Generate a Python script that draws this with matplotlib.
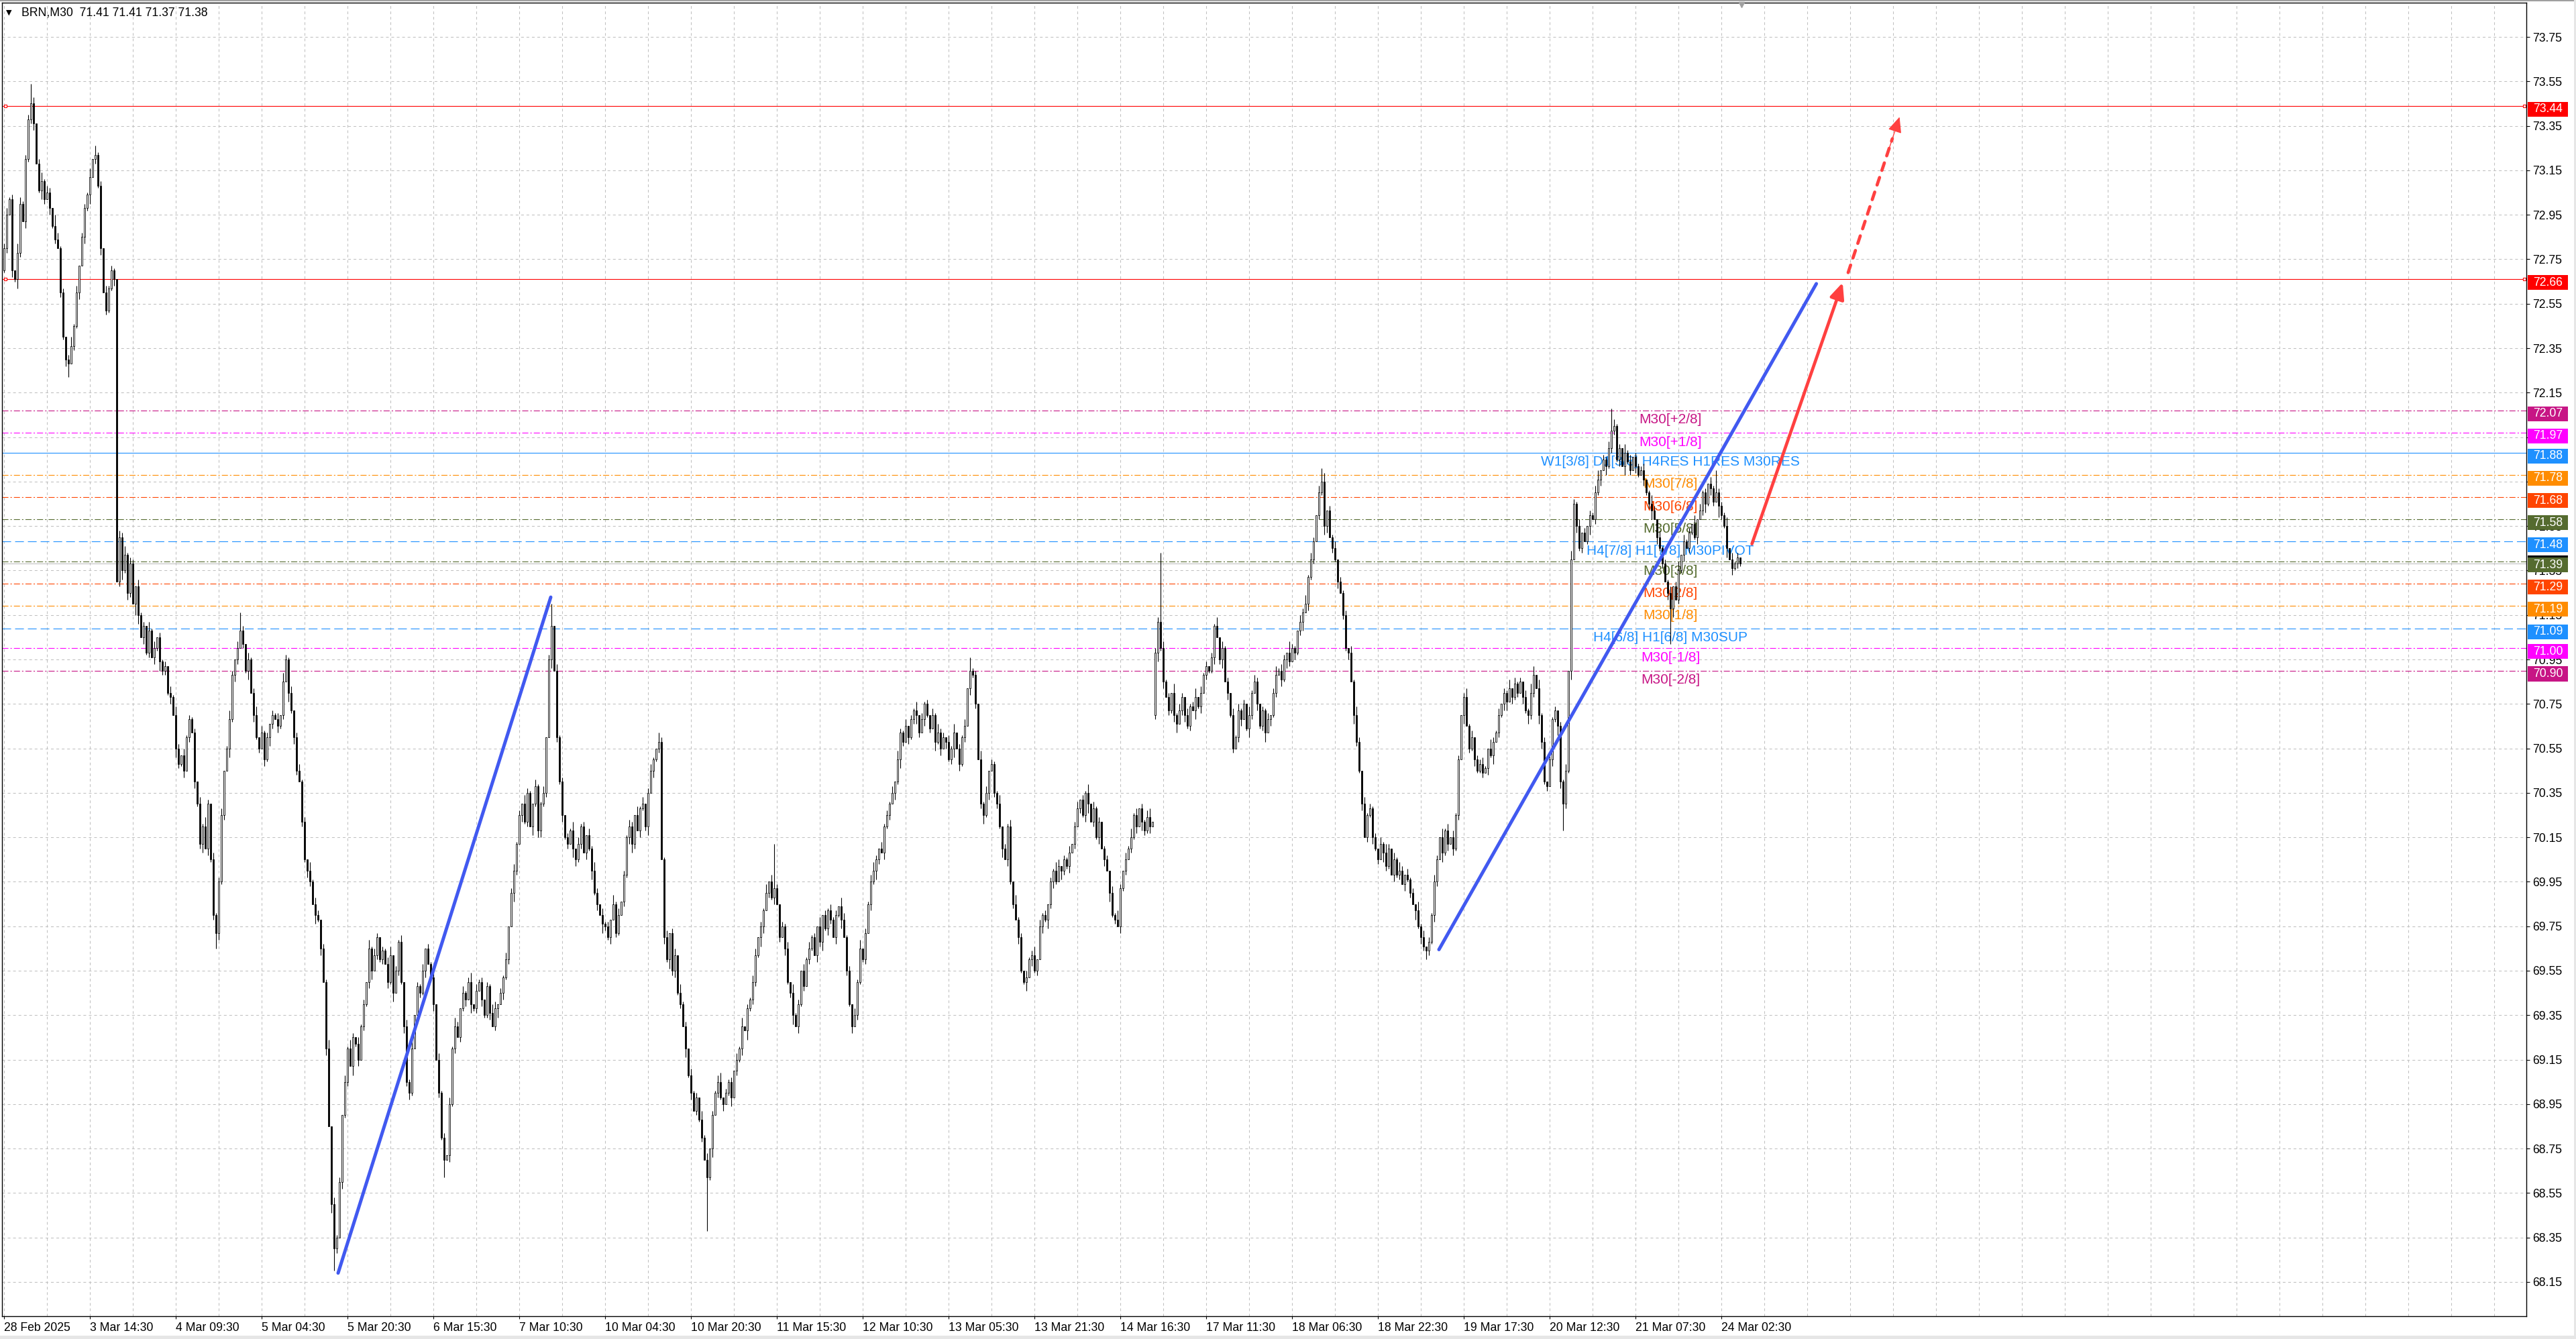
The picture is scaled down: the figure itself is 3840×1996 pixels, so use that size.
import numpy as np
import matplotlib
matplotlib.use("Agg")
import matplotlib.pyplot as plt
from matplotlib.patches import Rectangle, FancyArrowPatch
from matplotlib.ticker import MultipleLocator

plt.rcParams['font.family'] = ['Liberation Sans', 'DejaVu Sans']
plt.rcParams['lines.scale_dashes'] = False

# ---------------- data ----------------
symbol = "BRN,M30"
last_ohlc = [71.41, 71.41, 71.37, 71.38]

closes = [
    72.80, 72.95, 73.02, 72.70, 72.66, 72.78, 73.00, 72.92,
    73.20, 73.38, 73.45, 73.36, 73.18, 73.06, 73.10, 73.02, 73.05,
    72.98, 72.90, 72.84, 72.80, 72.60, 72.40, 72.30, 72.28,
    72.36, 72.45, 72.60, 72.72, 72.85, 72.98, 73.04, 73.12, 73.20,
    73.22, 73.08, 72.80, 72.60, 72.52, 72.62, 72.70, 72.66,
    71.30, 71.50, 71.35, 71.42, 71.25, 71.38, 71.20, 71.28, 71.15,
    71.05, 71.10, 70.98, 71.08, 70.96, 71.00, 71.05, 70.94,
    70.90, 70.92, 70.80, 70.78, 70.70, 70.55, 70.48, 70.52,
    70.45, 70.60, 70.68, 70.62, 70.40, 70.30, 70.12, 70.20, 70.10,
    70.30, 70.05, 69.80, 69.72, 69.95, 70.25, 70.45, 70.55,
    70.68, 70.88, 70.95, 71.00, 71.08, 71.02, 70.90, 70.95, 70.80,
    70.70, 70.60, 70.55, 70.62, 70.50, 70.60, 70.66, 70.70,
    70.68, 70.65, 70.70, 70.85, 70.95, 70.80, 70.72, 70.60, 70.45,
    70.40, 70.22, 70.05, 70.00, 69.95, 69.85, 69.80, 69.78,
    69.65, 69.50, 69.20, 68.85, 68.50, 68.30, 68.35, 68.60,
    68.90, 69.05, 69.20, 69.12, 69.25, 69.22, 69.15, 69.30, 69.40,
    69.50, 69.65, 69.55, 69.62, 69.70, 69.60, 69.64, 69.58,
    69.50, 69.62, 69.45, 69.55, 69.68, 69.50, 69.30, 69.05, 69.00,
    69.20, 69.35, 69.48, 69.45, 69.55, 69.65, 69.58, 69.52,
    69.40, 69.15, 69.00, 68.80, 68.70, 68.72, 68.95, 69.20, 69.30,
    69.25, 69.38, 69.45, 69.42, 69.50, 69.40, 69.38, 69.46,
    69.50, 69.42, 69.35, 69.48, 69.36, 69.30, 69.38, 69.40,
    69.45, 69.52, 69.60, 69.75, 69.90, 70.00, 70.12, 70.25, 70.30,
    70.22, 70.35, 70.20, 70.30, 70.38, 70.18, 70.30, 70.35,
    70.60, 70.95, 71.10, 70.90, 70.60, 70.40, 70.25, 70.15, 70.12,
    70.18, 70.10, 70.05, 70.12, 70.20, 70.08, 70.16, 70.10,
    70.00, 69.90, 69.85, 69.80, 69.76, 69.75, 69.70, 69.78, 69.85,
    69.72, 69.80, 69.86, 69.98, 70.15, 70.20, 70.12, 70.25,
    70.18, 70.28, 70.30, 70.20, 70.35, 70.45, 70.50, 70.55,
    70.58, 70.05, 69.70, 69.60, 69.72, 69.55, 69.62, 69.45, 69.40,
    69.30, 69.20, 69.08, 69.00, 68.92, 68.98, 68.88, 68.80,
    68.70, 68.62, 68.75, 68.90, 69.00, 69.05, 68.98, 68.95, 69.00,
    69.05, 68.98, 69.10, 69.15, 69.20, 69.30, 69.28, 69.38,
    69.42, 69.50, 69.62, 69.70, 69.75, 69.82, 69.90, 69.95, 69.88,
    69.92, 69.85, 69.70, 69.75, 69.65, 69.50, 69.45, 69.35,
    69.30, 69.40, 69.55, 69.48, 69.60, 69.65, 69.70, 69.62,
    69.75, 69.68, 69.80, 69.74, 69.82, 69.78, 69.70, 69.80, 69.84,
    69.78, 69.70, 69.55, 69.40, 69.30, 69.35, 69.50, 69.65,
    69.60, 69.72, 69.85, 69.95, 70.00, 70.05, 70.10, 70.08, 70.20,
    70.25, 70.30, 70.35, 70.40, 70.50, 70.62, 70.58, 70.65,
    70.60, 70.68, 70.72, 70.70, 70.62, 70.68, 70.75, 70.70, 70.64,
    70.70, 70.58, 70.62, 70.55, 70.60, 70.58, 70.50, 70.55,
    70.62, 70.55, 70.48, 70.60, 70.65, 70.82, 70.90, 70.88,
    70.75, 70.50, 70.30, 70.25, 70.35, 70.45, 70.48, 70.35, 70.30,
    70.20, 70.10, 70.05, 70.20, 69.95, 69.85, 69.78, 69.70,
    69.55, 69.50, 69.52, 69.60, 69.62, 69.55, 69.60, 69.75, 69.80,
    69.78, 69.85, 69.95, 70.00, 69.95, 70.02, 70.00, 70.05,
    70.02, 70.08, 70.12, 70.20, 70.28, 70.32, 70.25, 70.35, 70.30,
    70.22, 70.28, 70.15, 70.22, 70.10, 70.05, 70.00, 69.90,
    69.80, 69.78, 69.75, 69.92, 70.00, 70.05, 70.10, 70.15,
    70.25, 70.20, 70.28, 70.22, 70.18, 70.24, 70.20, 70.22, 70.98,
    71.12, 71.00, 70.85, 70.78, 70.72, 70.80, 70.70, 70.66,
    70.72, 70.78, 70.70, 70.65, 70.74, 70.72, 70.78, 70.74, 70.80,
    70.88, 70.92, 70.90, 70.96, 71.10, 71.05, 70.95, 71.00,
    70.85, 70.80, 70.70, 70.55, 70.60, 70.72, 70.68, 70.75, 70.64,
    70.70, 70.80, 70.85, 70.75, 70.65, 70.72, 70.62, 70.68,
    70.70, 70.80, 70.88, 70.90, 70.86, 70.95, 70.98, 70.94,
    71.00, 70.98, 71.08, 71.12, 71.16, 71.20, 71.32, 71.40, 71.48,
    71.60, 71.70, 71.75, 71.55, 71.62, 71.50, 71.45, 71.40,
    71.30, 71.25, 71.15, 71.00, 70.98, 70.85, 70.70, 70.58, 70.45,
    70.30, 70.15, 70.25, 70.28, 70.15, 70.10, 70.05, 70.12,
    70.08, 70.02, 70.10, 69.98, 70.05, 69.98, 70.00, 69.94, 69.98,
    69.96, 69.90, 69.85, 69.82, 69.75, 69.70, 69.66, 69.64,
    69.68, 69.80, 69.95, 70.05, 70.15, 70.08, 70.18, 70.12,
    70.15, 70.10, 70.25, 70.50, 70.70, 70.78, 70.65, 70.55, 70.60,
    70.50, 70.45, 70.48, 70.44, 70.46, 70.55, 70.52, 70.58,
    70.62, 70.70, 70.75, 70.80, 70.76, 70.82, 70.78, 70.84, 70.80,
    70.85, 70.78, 70.72, 70.70, 70.80, 70.88, 70.82, 70.70,
    70.58, 70.40, 70.38, 70.50, 70.68, 70.72, 70.65, 70.40,
    70.30, 70.45, 70.90, 71.40, 71.65, 71.55, 71.45, 71.52, 71.48,
    71.55, 71.60, 71.58, 71.70, 71.76, 71.80, 71.85, 71.82,
    71.90, 71.98, 72.00, 71.85, 71.90, 71.82, 71.88, 71.84, 71.80,
    71.86, 71.82, 71.78, 71.80, 71.76, 71.70, 71.65, 71.62,
    71.58, 71.50, 71.45, 71.38, 71.30, 71.25, 71.18, 71.28, 71.22,
    71.35, 71.42, 71.48, 71.45, 71.52, 71.56, 71.50, 71.58,
    71.62, 71.70, 71.65, 71.74, 71.72, 71.66, 71.70, 71.64, 71.60,
    71.55, 71.45, 71.40, 71.36, 71.38, 71.41, 71.38,
]
first_open = 72.70
gap_opens = {429: 70.70}

# wick sizes in cents, one digit per bar
wick_up_cents = "".join([
    "2312043122", "1302413205", "3120241302", "2140312031", "2103241320", "3120413021", "2031420312", "1203142031", "2301420312", "0312403120",
    "2130421302", "3120413202", "1403120314", "2031204132", "0213402130", "3140213021", "4031203142", "0312403120", "2143021302", "3120421031",
    "1302403120", "2140312031", "4203120413", "0213204130", "2310421302", "3041203120", "4130213402", "1203140213", "3021403120", "2130412031",
    "3120402131", "2043120314", "0213420312", "1304213021", "4031203142", "2031402130", "3120413021", "1402130412", "0312403120", "2143021302",
    "3021403120", "1203142031", "4130213402", "2031204132", "0312403120", "2140312031", "3120413202", "1302413205", "2103241320", "3140213021",
    "2031420312", "1203142031", "4203120413", "0213204130", "3120241302", "2310421302", "1403120314", "3041203120", "2130421302", "0213402130",
    "3120413021", "2301420312", "1302403120", "4031203142", "21403120",
])
wick_dn_cents = "".join([
    "1203142031", "2301420312", "0213402130", "3140213021", "1302413205", "4031203142", "2130421302", "0312403120", "3120413202", "1403120314",
    "2031204132", "0213204130", "3041203120", "4130213402", "1203140213", "2310421302", "3021403120", "2130412031", "1302403120", "4203120413",
    "3120402131", "2043120314", "1304213021", "0213420312", "4031203142", "3120413021", "2031402130", "1402130412", "2143021302", "0312403120",
    "2103241320", "3140213021", "1203142031", "2031420312", "4203120413", "0312403120", "3120241302", "2140312031", "1403120314", "2310421302",
    "0213402130", "3041203120", "2130421302", "4130213402", "3120413021", "1302403120", "2301420312", "4031203142", "0312403120", "2143021302",
    "1304213021", "3120421031", "2031204132", "0213204130", "3120402131", "1203140213", "4031203142", "2043120314", "3021403120", "1402130412",
    "2130412031", "0312403120", "3140213021", "1302413205", "21403121",
])
high_marks = {10: 73.54, 34: 73.26, 88: 71.16, 204: 71.20, 287: 70.12, 360: 70.96,
              431: 71.43, 491: 71.81, 570: 70.92, 599: 72.08, 638: 71.80}
low_marks = {24: 72.22, 79: 69.65, 123: 68.20, 164: 68.62, 262: 68.38, 530: 69.60,
             581: 70.18, 621: 71.02}

price_ticks = [73.75, 73.55, 73.35, 73.15, 72.95, 72.75, 72.55, 72.35, 72.15, 71.95,
               71.75, 71.55, 71.35, 71.15, 70.95, 70.75, 70.55, 70.35, 70.15, 69.95,
               69.75, 69.55, 69.35, 69.15, 68.95, 68.75, 68.55, 68.35, 68.15]
time_labels = ["28 Feb 2025", "3 Mar 14:30", "4 Mar 09:30", "5 Mar 04:30", "5 Mar 20:30",
               "6 Mar 15:30", "7 Mar 10:30", "10 Mar 04:30", "10 Mar 20:30", "11 Mar 15:30",
               "12 Mar 10:30", "13 Mar 05:30", "13 Mar 21:30", "14 Mar 16:30", "17 Mar 11:30",
               "18 Mar 06:30", "18 Mar 22:30", "19 Mar 17:30", "20 Mar 12:30", "21 Mar 07:30",
               "24 Mar 02:30"]
bars_per_label = 32
bars_per_grid = 16

level_prices = [73.44, 72.66, 72.07, 71.97, 71.88, 71.78, 71.68, 71.58, 71.48, 71.39,
                71.29, 71.19, 71.09, 71.00, 70.90]
level_colors = ["#ff0000", "#ff0000", "#c71585", "#ff00ff", "#1e90ff", "#ff8c00", "#ff4500",
                "#556b2f", "#1e90ff", "#556b2f", "#ff4500", "#ff8c00", "#1e90ff", "#ff00ff", "#c71585"]
level_styles = ["solid", "solid", "dashdot", "dashdot", "solid", "dashdot", "dashdot",
                "dashdot", "dashed", "dashdot", "dashdot", "dashdot", "dashed", "dashdot", "dashdot"]

level_text_prices = [72.07, 71.97, 71.88, 71.78, 71.68, 71.58, 71.48, 71.39, 71.29, 71.19, 71.09, 71.00, 70.90]
level_text_labels = ["M30[+2/8]", "M30[+1/8]", "W1[3/8] D1[3/8] H4RES H1RES M30RES", "M30[7/8]",
                     "M30[6/8]", "M30[5/8]", "H4[7/8] H1[7/8] M30PIVOT", "M30[3/8]", "M30[2/8]",
                     "M30[1/8]", "H4[6/8] H1[6/8] M30SUP", "M30[-1/8]", "M30[-2/8]"]
level_text_colors = ["#c71585", "#ff00ff", "#1e90ff", "#ff8c00", "#ff4500", "#556b2f", "#1e90ff",
                     "#556b2f", "#ff4500", "#ff8c00", "#1e90ff", "#ff00ff", "#c71585"]
level_text_bar = 621.0

bid_price = 71.38

trend1_bars = [124.5, 203.75]
trend1_prices = [68.19, 71.23]
trend2_bars = [534.75, 675.4]
trend2_prices = [69.645, 72.64]
arrow1_bars = [651.4, 685.2]
arrow1_prices = [71.47, 72.645]
arrow2_bars = [687.25, 706.4]
arrow2_prices = [72.69, 73.39]

# ---------------- derived OHLC ----------------
c = np.array(closes)
n = len(c)
o = np.concatenate([[first_open], c[:-1]])
for k, v in gap_opens.items():
    o[k] = v
up = np.array([int(ch) for ch in wick_up_cents[:n]]) / 100.0
dn = np.array([int(ch) for ch in wick_dn_cents[:n]]) / 100.0
h = np.maximum(o, c) + up
l = np.minimum(o, c) - dn
for k, v in high_marks.items():
    h[k] = max(h[k], v)
for k, v in low_marks.items():
    l[k] = min(l[k], v)
x = np.arange(n)

# ---------------- figure ----------------
W, H = 3840, 1996
fig = plt.figure(figsize=(W / 100, H / 100), dpi=100)
fig.patch.set_facecolor("white")
ax = fig.add_axes([3 / W, 34 / H, 3763 / W, 1958 / H])
ax.set_facecolor("white")
ax.set_xlim(-0.75, 940.0)
ax.set_ylim(67.996, 73.904)
ax.set_axisbelow(True)

for s in ax.spines.values():
    s.set_color("black")
    s.set_linewidth(1.0)

# grid
grid_kw = dict(color="#c0c0c0", linewidth=0.75, linestyle=(0, (2.9, 2.9)))
ax.xaxis.set_minor_locator(MultipleLocator(bars_per_grid))
ax.set_xticks([i * bars_per_label for i in range(len(time_labels))])
ax.set_xticklabels(time_labels)
for t in ax.get_xticklabels():
    t.set_horizontalalignment("left")
ax.grid(True, axis="x", which="both", **grid_kw)
ax.set_yticks(price_ticks)
ax.set_yticklabels([f"{p:.2f}" for p in price_ticks])
ax.grid(True, axis="y", which="major", **grid_kw)
ax.yaxis.tick_right()
ax.tick_params(axis="y", which="major", length=3.6, width=0.8, pad=3.0, labelsize=12.7, colors="black")
ax.tick_params(axis="x", which="major", length=3.0, width=0.8, pad=3.5, labelsize=12.7, colors="black")
ax.tick_params(axis="x", which="minor", length=0)

# level lines
style_map = {"solid": "-", "dashdot": (0, (6.5, 2.2, 1.5, 2.2)), "dashed": (0, (9.4, 4.3))}
for p, col, st in zip(level_prices, level_colors, level_styles):
    ax.axhline(p, color=col, linewidth=0.8, linestyle=style_map[st], zorder=1.5)
ax.axhline(bid_price, color="#c0c0c0", linewidth=0.8, zorder=1.4)

# small hollow squares on red lines
ytr = ax.get_yaxis_transform()
for p, col, st in zip(level_prices[:2], level_colors[:2], level_styles[:2]):
    ax.plot([0.0012, 0.9992], [p, p], linestyle="none", marker="s", ms=3.2, mfc="white",
            mec=col, mew=0.8, transform=ytr, clip_on=False, zorder=2)

# level texts
for p, txt, col in zip(level_text_prices, level_text_labels, level_text_colors):
    ax.text(level_text_bar, p - 0.059, txt, color=col, fontsize=15, ha="center",
            va="baseline", zorder=2)

# candles
ax.vlines(x, l, h, color="black", linewidth=0.8, zorder=3)
body_col = np.where(c >= o, "white", "black")
ax.bar(x, np.abs(c - o), bottom=np.minimum(o, c), width=0.6, color=body_col,
       edgecolor="black", linewidth=0.6, zorder=3.5)

# trend lines
ax.plot(trend1_bars, trend1_prices, color="#4159f0", linewidth=3.6, solid_capstyle="round", zorder=5)
ax.plot(trend2_bars, trend2_prices, color="#4159f0", linewidth=3.6, solid_capstyle="round", zorder=5)

# red arrows
red = "#ff4040"
a1 = FancyArrowPatch((arrow1_bars[0], arrow1_prices[0]), (arrow1_bars[1], arrow1_prices[1]),
                     arrowstyle="-|>,head_length=0.72,head_width=0.32", mutation_scale=20,
                     color=red, linewidth=3.4, shrinkA=0, shrinkB=0, zorder=5, capstyle="round")
ax.add_patch(a1)
xa, ya = np.array(arrow2_bars), np.array(arrow2_prices)
fr_line = 0.86
ax.plot([xa[0], xa[0] + fr_line * (xa[1] - xa[0])], [ya[0], ya[0] + fr_line * (ya[1] - ya[0])],
        color=red, linewidth=3.4, dashes=(8.5, 8.0), dash_capstyle="round", zorder=5)
fr_head = 0.80
a2 = FancyArrowPatch((xa[0] + fr_head * (xa[1] - xa[0]), ya[0] + fr_head * (ya[1] - ya[0])),
                     (xa[1], ya[1]), arrowstyle="-|>,head_length=0.72,head_width=0.32",
                     mutation_scale=20, color=red, linewidth=1.0, shrinkA=0, shrinkB=0, zorder=5)
ax.add_patch(a2)

# price label boxes on the right axis
box_h = 0.0667
box_x0, box_w = 1.0005, 0.01594
def price_box(p, col, center_shift=-0.015):
    cy = p + center_shift
    ax.add_patch(Rectangle((box_x0, cy - box_h / 2), box_w, box_h, transform=ytr,
                           facecolor=col, edgecolor="none", clip_on=False, zorder=6))
    return cy

for p, col in zip(level_prices, level_colors):
    if p == 71.39:
        # bid (black) label peeking out from behind this one
        price_box(p, "black", center_shift=-0.007)
    cy = price_box(p, col)
    ax.text(1.0027, cy, f"{p:.2f}", transform=ytr, color="white", fontsize=12.7,
            ha="left", va="center", clip_on=False, zorder=7)

# chart shift marker at the top
ax.plot([0.689], [0.9985], marker="v", ms=6, color="#a0a0a0", transform=ax.transAxes,
        clip_on=False, zorder=8)

# header
fig.text(9 / W, 1 - 19 / H, "\u25bc", fontsize=8, family="DejaVu Sans", va="center", ha="left")
fig.text(32 / W, 1 - 19 / H, f"{symbol}  " + " ".join(f"{v:.2f}" for v in last_ohlc),
         fontsize=12.7, va="center", ha="left", color="black")

# window frame
fig.patches.append(Rectangle((0, 1 - 2 / H), 1, 2 / H, transform=fig.transFigure,
                             facecolor="#a0a0a0", edgecolor="none"))
fig.patches.append(Rectangle((0, 0), 1, 5 / H, transform=fig.transFigure,
                             facecolor="#e6e6e6", edgecolor="none"))
fig.patches.append(Rectangle((1 - 3 / W, 0), 3 / W, 1, transform=fig.transFigure,
                             facecolor="#e6e6e6", edgecolor="none"))

fig.savefig("out.png", dpi=100, facecolor="white")
